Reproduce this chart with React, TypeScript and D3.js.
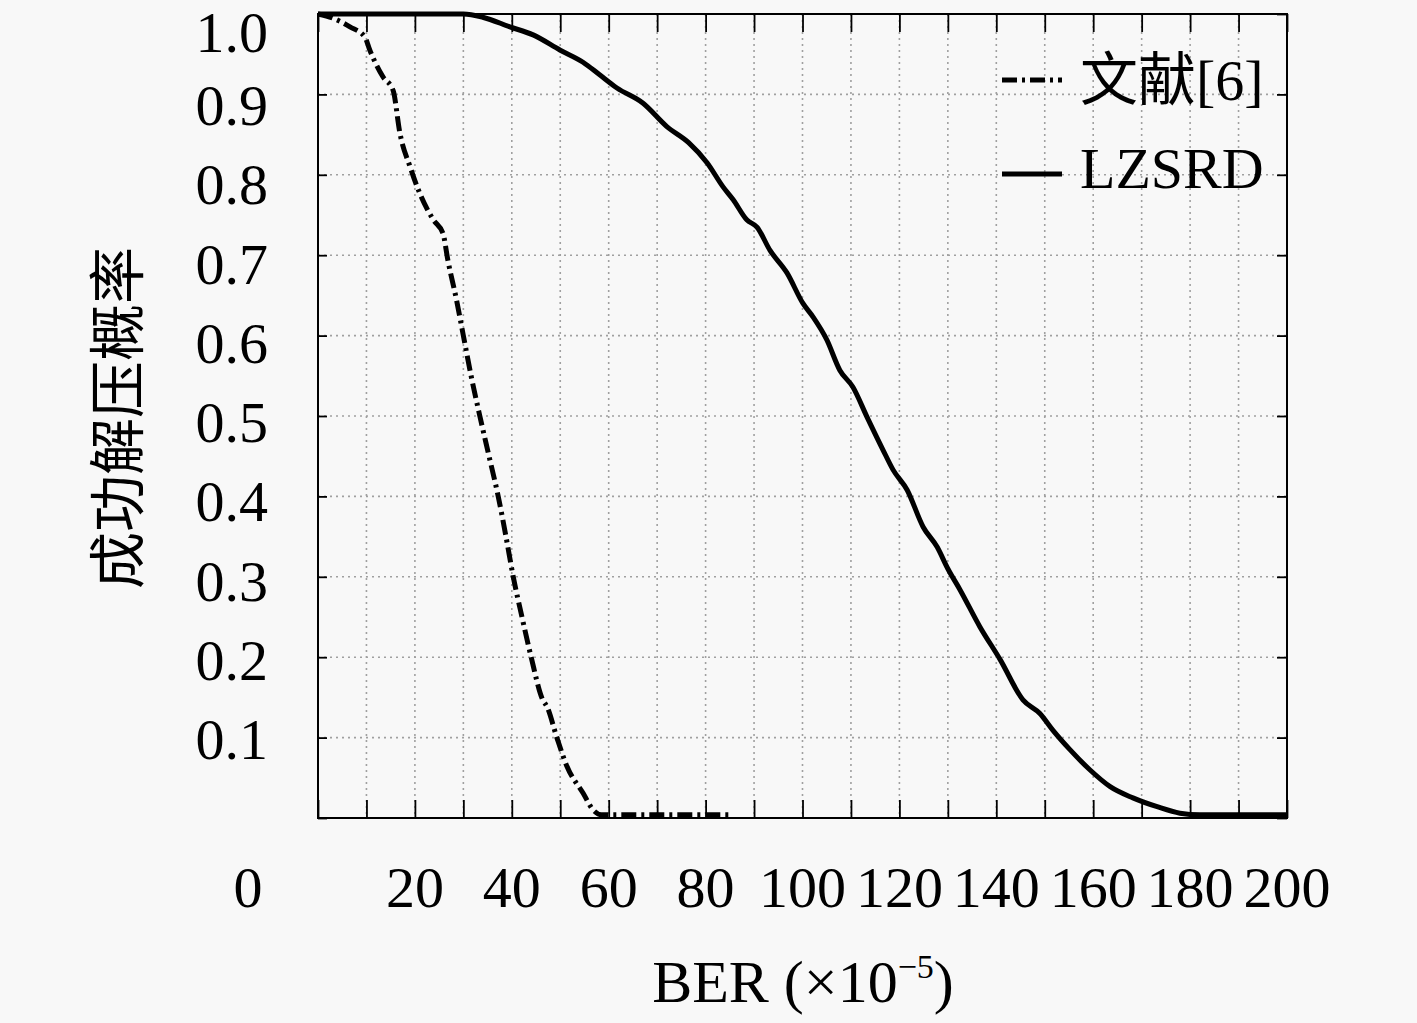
import { useRef, useEffect } from "react";
import * as d3 from "d3";

// BER (x1e-5) vs success probability
const refBer = [0, 3, 6.6, 9.7, 10.7, 13.4, 15.5, 16.9, 19, 21, 23.8, 25.8, 26.8, 28.6, 30, 31.6, 33.4, 35.3, 37.2, 38.8, 40.3, 42.1, 44, 46.3, 47.3, 49.3, 51.4, 54.7, 56.8, 58.5, 85];
const refProb = [1.0, 0.995, 0.984, 0.971, 0.955, 0.922, 0.905, 0.852, 0.81, 0.777, 0.744, 0.727, 0.694, 0.644, 0.6, 0.55, 0.5, 0.45, 0.4, 0.35, 0.3, 0.25, 0.2, 0.148, 0.138, 0.1, 0.064, 0.031, 0.01, 0.004, 0.004];

const lzBer = [0, 30, 34, 39.6, 44.4, 50, 54.7, 58, 61.7, 67.1, 72, 76.5, 80.3, 83.6, 85.7, 88.5, 90.6, 93.3, 96.8, 100.1, 102.2, 105, 107.7, 110.4, 113.3, 116.6, 118.7, 121.6, 124.9, 127.8, 130, 132.5, 136.6, 140.8, 145.5, 149, 151.7, 155.2, 159.3, 163.5, 168.2, 173.2, 177.9, 182, 200];
const lzProb = [1.0, 1.0, 0.996, 0.984, 0.974, 0.955, 0.94, 0.925, 0.908, 0.889, 0.86, 0.84, 0.815, 0.785, 0.769, 0.744, 0.735, 0.706, 0.678, 0.64, 0.623, 0.595, 0.557, 0.536, 0.499, 0.458, 0.433, 0.408, 0.362, 0.337, 0.31, 0.284, 0.238, 0.197, 0.147, 0.13, 0.109, 0.085, 0.06, 0.039, 0.025, 0.014, 0.006, 0.004, 0.004];

const xTickLabels = [0, 20, 40, 60, 80, 100, 120, 140, 160, 180, 200];
const yTickLabels = [1.0, 0.9, 0.8, 0.7, 0.6, 0.5, 0.4, 0.3, 0.2, 0.1];
const legendNames = ["文献[6]", "LZSRD"];

export default function App() {
  const svgRef = useRef<SVGSVGElement>(null);

  useEffect(() => {
    if (!svgRef.current) return;
    const width = 1417;
    const height = 1023;
    const margin = { top: 14, right: 130, bottom: 205, left: 318 };
    const font = "'Liberation Serif', 'Times New Roman', serif";
    const cjk = "'Noto Sans CJK SC', sans-serif";

    const svg = d3.select(svgRef.current);
    svg.selectAll("*").remove();
    svg.attr("viewBox", `0 0 ${width} ${height}`).attr("width", width).attr("height", height);

    svg.append("rect").attr("width", width).attr("height", height).attr("fill", "#f8f8f8");

    const x = d3.scaleLinear().domain([0, 200]).range([margin.left, width - margin.right]);
    const y = d3.scaleLinear().domain([0, 1]).range([height - margin.bottom, margin.top]);
    // the tick labels in the figure sit on a slightly tighter spacing than the grid
    const yLabel = d3.scaleLinear().domain([0.1, 1]).range([740, 27]);

    // dotted grid
    const grid = svg.append("g").attr("stroke", "#a0a0a0").attr("stroke-width", 1.6).attr("stroke-dasharray", "2 4");
    d3.range(10, 200, 10).forEach((v) => {
      grid.append("line").attr("x1", x(v)).attr("x2", x(v)).attr("y1", y(1)).attr("y2", y(0));
    });
    d3.range(1, 10).forEach((i) => {
      grid.append("line").attr("x1", x(0)).attr("x2", x(200)).attr("y1", y(i / 10)).attr("y2", y(i / 10));
    });

    // inward ticks on all four sides
    const xTicks = d3.range(0, 201, 10);
    const yTicks = d3.range(0, 11).map((i) => i / 10);
    const styleAxis = (g: d3.Selection<SVGGElement, unknown, null, undefined>) => {
      g.select(".domain").remove();
      g.selectAll(".tick line").attr("stroke", "#000").attr("stroke-width", 1.8);
      g.selectAll(".tick text").remove();
    };
    svg.append("g").attr("transform", `translate(0,${y(0)})`)
      .call(d3.axisBottom(x).tickValues(xTicks).tickSize(-18).tickFormat(() => ""))
      .call(styleAxis);
    svg.append("g").attr("transform", `translate(0,${y(1)})`)
      .call(d3.axisTop(x).tickValues(xTicks).tickSize(-18).tickFormat(() => ""))
      .call(styleAxis);
    svg.append("g").attr("transform", `translate(${x(0)},0)`)
      .call(d3.axisLeft(y).tickValues(yTicks).tickSize(-9).tickFormat(() => ""))
      .call(styleAxis);
    svg.append("g").attr("transform", `translate(${x(200)},0)`)
      .call(d3.axisRight(y).tickValues(yTicks).tickSize(-10).tickFormat(() => ""))
      .call(styleAxis);

    // frame
    svg.append("rect")
      .attr("x", x(0)).attr("y", y(1))
      .attr("width", x(200) - x(0)).attr("height", y(0) - y(1))
      .attr("fill", "none").attr("stroke", "#000").attr("stroke-width", 2);

    // curves
    const line = d3.line<[number, number]>().x((d) => x(d[0])).y((d) => y(d[1])).curve(d3.curveMonotoneX);
    const refData = refBer.map((b, i) => [b, refProb[i]] as [number, number]);
    const lzData = lzBer.map((b, i) => [b, lzProb[i]] as [number, number]);

    svg.append("path").datum(refData)
      .attr("fill", "none").attr("stroke", "#000").attr("stroke-width", 5)
      .attr("stroke-dasharray", "15 5 3 5")
      .attr("d", line);
    svg.append("path").datum(lzData)
      .attr("fill", "none").attr("stroke", "#000").attr("stroke-width", 5)
      .attr("stroke-linejoin", "round")
      .attr("d", line);

    // tick labels
    const labels = svg.append("g").attr("font-family", font).attr("font-size", 58).attr("fill", "#000");
    xTickLabels.forEach((v) => {
      labels.append("text")
        .attr("x", v === 0 ? x(v) - 70 : x(v))
        .attr("y", 907)
        .attr("text-anchor", "middle")
        .text(String(v));
    });
    yTickLabels.forEach((v) => {
      labels.append("text")
        .attr("x", 268)
        .attr("y", Math.max(yLabel(v) + 19, 52))
        .attr("text-anchor", "end")
        .text(v.toFixed(1));
    });

    // axis titles
    const xt = svg.append("text")
      .attr("x", 803).attr("y", 1002)
      .attr("text-anchor", "middle")
      .attr("font-family", font).attr("font-size", 60).attr("fill", "#000");
    xt.append("tspan").text("BER (×10");
    xt.append("tspan").attr("font-size", 34).attr("dy", -24).text("−5");
    xt.append("tspan").attr("dy", 24).text(")");

    svg.append("text")
      .attr("transform", `translate(138,418) rotate(-90)`)
      .attr("text-anchor", "middle")
      .attr("font-family", cjk)
      .attr("font-size", 57).attr("fill", "#000")
      .text("成功解压概率");

    // legend
    const legend = svg.append("g");
    const lx0 = 1002;
    const lx1 = 1062;
    const rows = [80, 174];
    legendNames.forEach((name, i) => {
      legend.append("line")
        .attr("x1", lx0).attr("x2", lx1).attr("y1", rows[i]).attr("y2", rows[i])
        .attr("stroke", "#000").attr("stroke-width", 5)
        .attr("stroke-dasharray", i === 0 ? "15 5 3 5" : null);
      const t = legend.append("text")
        .attr("x", 1080).attr("y", i === 0 ? 100 : 188)
        .attr("font-size", 58).attr("fill", "#000");
      if (i === 0) {
        t.append("tspan").attr("font-family", cjk).text(name.slice(0, 2));
        t.append("tspan").attr("font-family", font).text(name.slice(2));
      } else {
        t.attr("font-family", font).text(name);
      }
    });
  }, []);

  return (
    <div style={{ position: "absolute", left: 0, top: 0, width: 1417, height: 1023, background: "#f8f8f8" }}>
      <svg ref={svgRef} style={{ display: "block" }} />
    </div>
  );
}
